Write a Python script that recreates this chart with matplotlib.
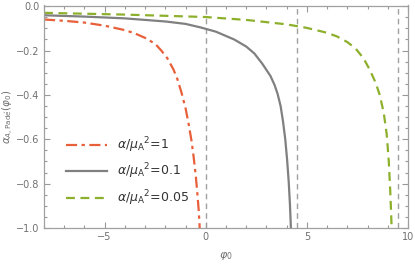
import matplotlib
matplotlib.use("Agg")
import matplotlib.pyplot as plt
from matplotlib.ticker import MultipleLocator, FuncFormatter

# curves
x_red = [-8, -7, -6, -5, -4, -3.5, -3, -2.5, -2.2, -1.9, -1.6, -1.4, -1.2, -1.0,
         -0.85, -0.7, -0.6, -0.5, -0.42, -0.35, -0.3]
y_red = [-0.060, -0.066, -0.074, -0.088, -0.108, -0.123, -0.143, -0.170, -0.200, -0.235,
         -0.285, -0.33, -0.39, -0.46, -0.53, -0.61, -0.68, -0.76, -0.84, -0.92, -1.0]

x_gray = [-8, -6, -4, -2, -1, -0.25, 0.5, 1.4, 2.0, 2.4, 2.8, 3.2, 3.4, 3.55, 3.7, 3.82,
          3.93, 4.02, 4.1, 4.16, 4.21]
y_gray = [-0.041, -0.047, -0.055, -0.069, -0.080, -0.096, -0.115, -0.150, -0.182, -0.213,
          -0.26, -0.315, -0.355, -0.395, -0.45, -0.52, -0.60, -0.69, -0.79, -0.89, -1.0]

x_green = [-8, -4, 0, 2, 4, 5, 6, 6.5, 7, 7.4, 7.8, 8.1, 8.4, 8.6, 8.8, 8.95, 9.05,
           9.12, 9.16, 9.19]
y_green = [-0.030, -0.038, -0.049, -0.062, -0.082, -0.098, -0.120, -0.137, -0.162, -0.190,
           -0.235, -0.285, -0.345, -0.40, -0.48, -0.58, -0.70, -0.83, -0.92, -1.0]

poles = [0, 4.5, 9.5]
labels = [r"$\alpha/\mu_{\rm A}{}^2$=1", r"$\alpha/\mu_{\rm A}{}^2$=0.1", r"$\alpha/\mu_{\rm A}{}^2$=0.05"]

grey = "#707070"
fig = plt.figure(figsize=(4.15, 2.65), dpi=100)
ax = fig.add_axes([44 / 415, 1 - 228 / 265, 364 / 415, 222.5 / 265])

for p in poles:
    ax.axvline(p, color="#a0a0a0", lw=1.0, ls=(0, (4, 3)), zorder=1)

ax.plot(x_red, y_red, color="#e8603a", lw=1.6, ls=(0, (5, 2, 1.5, 2)), label=labels[0])
ax.plot(x_gray, y_gray, color="#808080", lw=1.6, ls="-", label=labels[1])
ax.plot(x_green, y_green, color="#8db02c", lw=1.6, ls=(0, (4, 2.5)), label=labels[2])

ax.set_xlim(-8, 10)
ax.set_ylim(-1.0, 0.003)

ax.xaxis.set_major_locator(MultipleLocator(5))
ax.xaxis.set_minor_locator(MultipleLocator(1))
ax.yaxis.set_major_locator(MultipleLocator(0.2))
ax.yaxis.set_minor_locator(MultipleLocator(0.05))
ax.yaxis.set_major_formatter(FuncFormatter(lambda v, _: f"{v:.1f}".replace("-", "\u2212")))
ax.xaxis.set_major_formatter(FuncFormatter(lambda v, _: f"{v:.0f}".replace("-", "\u2212")))

ax.tick_params(which="both", direction="in", top=True, right=True, color="#999999",
               labelcolor=grey, labelsize=7, width=0.8)
ax.tick_params(which="major", length=4, pad=3)
ax.tick_params(which="minor", length=2)
for s in ax.spines.values():
    s.set_color("#a0a0a0")
    s.set_linewidth(0.9)

ax.set_xlabel(r"$\varphi_0$", color=grey, fontsize=8, labelpad=6)
ax.set_ylabel(r"$\alpha_{A,\mathrm{Pad\'e}}(\varphi_0)$", color=grey, fontsize=7.5)
ax.yaxis.set_label_coords(-0.077, 0.5)

ax.legend(loc="lower left", bbox_to_anchor=(0.03, 0.04), frameon=False, fontsize=9,
          handlelength=3.3, labelspacing=0.55, handletextpad=0.8, labelcolor="#333333")

fig.savefig("out.png", dpi=100)
